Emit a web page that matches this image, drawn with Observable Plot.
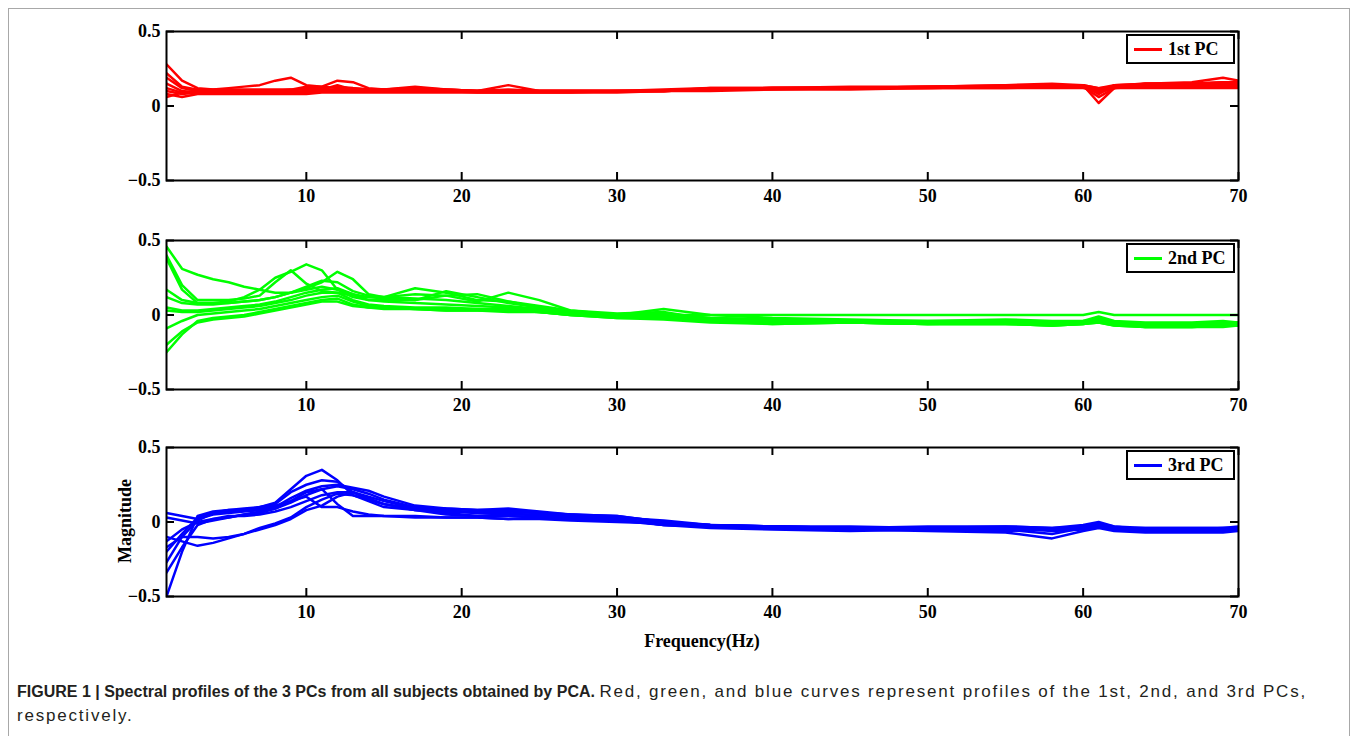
<!DOCTYPE html>
<html><head><meta charset="utf-8">
<script src="https://cdn.jsdelivr.net/npm/d3@7"></script>
<script src="https://cdn.jsdelivr.net/npm/@observablehq/plot@0.6"></script>
<style>
body{margin:0;background:#fff;}
#fig{position:relative;width:1357px;height:736px;overflow:hidden;background:#fff;}
.border{position:absolute;left:8px;top:8px;width:1340px;height:760px;border:1px solid #a8a8a8;}
.panel{position:absolute;left:0;}
.legend{position:absolute;left:1126px;width:105px;height:26px;border:2px solid #000;background:#fff;font:bold 18px "Liberation Serif",serif;color:#000;}
.legend .sw{position:absolute;left:6px;top:12px;width:28px;height:3px;}
.legend .tx{position:absolute;left:40px;top:3px;white-space:nowrap;}
.lab{position:absolute;font:bold 18px "Liberation Serif",serif;color:#000;white-space:nowrap;}
.cap{position:absolute;left:17px;font:16px "Liberation Sans",Arial,sans-serif;color:#231f20;white-space:nowrap;}
.cap .reg{font-size:17px;letter-spacing:1.8px;}
</style></head>
<body><div id="fig"><div class="border"></div></div>
<script>
const freqs = [1,2,3,4,5,6,7,8,9,10, 11,12,13,14,15, 17,19,21,23,25, 27,30,33,36,40, 45,50,55,58,60, 61,62,64,67,69,70];
const xTicks = [10,20,30,40,50,60,70];
const yTicks = [-0.5,0,0.5];
const legendLabels = ["1st PC","2nd PC","3rd PC"];
const colors = ["#ff0000","#00ff00","#0000ff"];

const pc1Curves = [
 [0.28,0.17,0.12,0.11,0.11,0.11,0.11,0.11,0.11,0.11, 0.11,0.11,0.11,0.11,0.11, 0.13,0.11,0.10,0.10,0.10, 0.10,0.10,0.10,0.12,0.12, 0.12,0.13,0.14,0.14,0.14, 0.12,0.14,0.15,0.15,0.15,0.15],
 [0.22,0.13,0.11,0.11,0.12,0.13,0.14,0.17,0.19,0.14, 0.13,0.12,0.12,0.11,0.11, 0.11,0.11,0.10,0.10,0.10, 0.10,0.10,0.11,0.12,0.12, 0.13,0.13,0.14,0.15,0.14, 0.08,0.14,0.15,0.16,0.19,0.17],
 [0.19,0.12,0.10,0.10,0.10,0.10,0.10,0.10,0.11,0.13, 0.13,0.17,0.16,0.12,0.11, 0.12,0.11,0.10,0.14,0.10, 0.10,0.10,0.10,0.11,0.12, 0.12,0.13,0.13,0.14,0.14, 0.02,0.12,0.15,0.15,0.16,0.15],
 [0.15,0.10,0.09,0.09,0.09,0.09,0.09,0.09,0.09,0.10, 0.11,0.14,0.11,0.10,0.10, 0.10,0.10,0.10,0.11,0.10, 0.10,0.10,0.10,0.11,0.12, 0.12,0.12,0.13,0.13,0.13, 0.06,0.12,0.14,0.14,0.14,0.14],
 [0.12,0.09,0.09,0.09,0.09,0.09,0.09,0.09,0.09,0.09, 0.10,0.10,0.10,0.10,0.10, 0.10,0.10,0.10,0.10,0.10, 0.10,0.10,0.10,0.11,0.12, 0.12,0.12,0.13,0.13,0.13, 0.11,0.13,0.14,0.14,0.14,0.13],
 [0.10,0.08,0.09,0.09,0.09,0.09,0.09,0.09,0.09,0.10, 0.10,0.10,0.10,0.10,0.10, 0.10,0.10,0.09,0.09,0.09, 0.09,0.10,0.10,0.11,0.11, 0.12,0.12,0.12,0.13,0.13, 0.09,0.12,0.13,0.13,0.13,0.13],
 [0.08,0.06,0.08,0.08,0.08,0.08,0.08,0.08,0.08,0.08, 0.09,0.09,0.09,0.09,0.09, 0.09,0.09,0.09,0.09,0.09, 0.09,0.09,0.10,0.10,0.11, 0.11,0.12,0.12,0.12,0.12, 0.10,0.12,0.12,0.12,0.12,0.12],
 [0.06,0.09,0.10,0.10,0.10,0.10,0.10,0.10,0.10,0.12, 0.12,0.13,0.12,0.11,0.11, 0.11,0.10,0.10,0.10,0.10, 0.10,0.10,0.10,0.11,0.12, 0.12,0.13,0.13,0.14,0.14, 0.12,0.13,0.15,0.15,0.16,0.16]
];

const pc2Curves = [
 [0.46,0.31,0.27,0.24,0.22,0.19,0.17,0.15,0.15,0.17, 0.19,0.17,0.14,0.12,0.12, 0.18,0.15,0.10,0.09,0.05, 0.02,-0.01,0.00,-0.02,-0.03, -0.04,-0.04,-0.03,-0.04,-0.04, -0.03,-0.05,-0.06,-0.06,-0.05,-0.05],
 [0.40,0.20,0.10,0.10,0.10,0.11,0.13,0.22,0.30,0.21, 0.16,0.15,0.13,0.12,0.11, 0.10,0.16,0.12,0.08,0.05, 0.02,0.00,-0.01,-0.03,-0.04, -0.04,-0.05,-0.04,-0.05,-0.05, -0.02,-0.06,-0.07,-0.07,-0.06,-0.06],
 [0.38,0.17,0.08,0.08,0.09,0.12,0.17,0.25,0.29,0.34, 0.30,0.17,0.12,0.10,0.10, 0.10,0.13,0.14,0.09,0.06, 0.03,0.00,0.01,-0.02,-0.03, -0.04,-0.05,-0.05,-0.06,-0.05, -0.03,-0.05,-0.06,-0.07,-0.06,-0.06],
 [0.17,0.10,0.08,0.08,0.08,0.09,0.10,0.12,0.15,0.18, 0.22,0.29,0.24,0.14,0.12, 0.14,0.13,0.09,0.15,0.10, 0.03,0.01,0.02,-0.03,-0.05, -0.05,-0.06,-0.06,-0.07,-0.06, -0.04,-0.06,-0.08,-0.08,-0.07,-0.07],
 [0.12,0.08,0.07,0.07,0.08,0.09,0.10,0.12,0.15,0.19, 0.23,0.22,0.16,0.13,0.12, 0.11,0.10,0.08,0.06,0.04, 0.02,0.00,0.04,0.00,-0.02, -0.03,-0.04,-0.04,-0.05,-0.04, -0.01,-0.04,-0.05,-0.05,-0.04,-0.05],
 [0.05,0.03,0.03,0.04,0.05,0.06,0.07,0.09,0.12,0.15, 0.17,0.18,0.14,0.10,0.09, 0.08,0.07,0.06,0.05,0.03, 0.02,0.00,0.00,0.00,0.00, 0.00,0.00,0.00,0.00,0.00, 0.02,0.00,0.00,0.00,0.00,0.00],
 [0.03,0.02,0.02,0.03,0.04,0.05,0.06,0.08,0.10,0.13, 0.15,0.15,0.10,0.07,0.06, 0.05,0.05,0.04,0.04,0.02, 0.01,-0.01,-0.02,-0.04,-0.05, -0.05,-0.06,-0.06,-0.07,-0.06, -0.05,-0.07,-0.08,-0.08,-0.08,-0.07],
 [-0.09,-0.04,0.00,0.01,0.02,0.03,0.04,0.06,0.08,0.10, 0.12,0.13,0.09,0.06,0.05, 0.04,0.04,0.04,0.03,0.02, 0.00,-0.02,-0.02,-0.04,-0.06, -0.05,-0.06,-0.05,-0.06,-0.05, -0.04,-0.06,-0.07,-0.07,-0.06,-0.06],
 [-0.20,-0.11,-0.05,-0.03,-0.02,-0.01,0.01,0.03,0.05,0.07, 0.09,0.09,0.06,0.05,0.04, 0.04,0.03,0.03,0.03,0.02, 0.00,-0.02,-0.03,-0.05,-0.06, -0.05,-0.06,-0.06,-0.07,-0.06, -0.05,-0.07,-0.08,-0.08,-0.07,-0.07],
 [-0.25,-0.13,-0.04,-0.02,-0.01,0.00,0.02,0.04,0.06,0.08, 0.10,0.11,0.07,0.05,0.05, 0.04,0.03,0.03,0.02,0.02, 0.00,-0.01,-0.02,-0.03,-0.04, -0.04,-0.05,-0.05,-0.06,-0.05, -0.03,-0.05,-0.06,-0.06,-0.06,-0.06]
];

const pc3Curves = [
 [-0.20,-0.08,0.03,0.06,0.07,0.08,0.10,0.13,0.22,0.31, 0.35,0.28,0.18,0.14,0.10, 0.08,0.07,0.07,0.06,0.04, 0.03,0.02,-0.02,-0.03,-0.04, -0.04,-0.05,-0.04,-0.05,-0.03, -0.02,-0.04,-0.05,-0.05,-0.05,-0.04],
 [-0.27,-0.10,0.01,0.06,0.08,0.09,0.10,0.12,0.20,0.25, 0.28,0.27,0.20,0.15,0.12, 0.09,0.09,0.08,0.08,0.06, 0.05,0.04,0.00,-0.02,-0.03, -0.04,-0.03,-0.03,-0.04,-0.02, 0.00,-0.03,-0.04,-0.04,-0.04,-0.03],
 [0.06,0.04,0.02,0.05,0.06,0.07,0.08,0.10,0.16,0.21, 0.24,0.25,0.23,0.21,0.17, 0.11,0.09,0.08,0.09,0.07, 0.05,0.03,0.01,-0.02,-0.03, -0.03,-0.04,-0.03,-0.04,-0.03, -0.01,-0.03,-0.05,-0.05,-0.04,-0.04],
 [0.03,0.01,-0.01,0.01,0.03,0.05,0.07,0.09,0.14,0.20, 0.22,0.12,0.04,0.04,0.04, 0.04,0.03,0.03,0.02,0.03, 0.02,0.01,-0.02,-0.04,-0.05, -0.06,-0.05,-0.06,-0.05,-0.04, -0.03,-0.05,-0.06,-0.06,-0.06,-0.05],
 [-0.13,-0.05,0.00,0.02,0.03,0.05,0.06,0.09,0.13,0.18, 0.22,0.24,0.22,0.19,0.15, 0.10,0.08,0.06,0.05,0.05, 0.04,0.03,0.00,-0.03,-0.03, -0.05,-0.05,-0.04,-0.06,-0.05, -0.03,-0.05,-0.06,-0.06,-0.05,-0.05],
 [-0.10,-0.13,-0.16,-0.14,-0.11,-0.08,-0.04,-0.01,0.03,0.10, 0.15,0.19,0.18,0.15,0.12, 0.08,0.05,0.04,0.04,0.03, 0.02,0.01,-0.01,-0.03,-0.04, -0.05,-0.06,-0.07,-0.11,-0.06, -0.04,-0.06,-0.07,-0.07,-0.07,-0.06],
 [-0.17,-0.10,-0.10,-0.11,-0.10,-0.08,-0.05,-0.02,0.02,0.08, 0.11,0.17,0.20,0.17,0.14, 0.09,0.06,0.04,0.05,0.05, 0.03,0.02,-0.02,-0.03,-0.03, -0.04,-0.04,-0.05,-0.08,-0.04, -0.03,-0.04,-0.06,-0.06,-0.06,-0.05],
 [-0.34,-0.17,-0.02,0.02,0.04,0.04,0.05,0.07,0.10,0.14, 0.18,0.20,0.20,0.16,0.12, 0.08,0.07,0.06,0.07,0.06, 0.05,0.04,0.00,-0.02,-0.03, -0.04,-0.04,-0.04,-0.05,-0.03, -0.02,-0.04,-0.05,-0.05,-0.05,-0.04],
 [-0.50,-0.20,0.04,0.07,0.08,0.08,0.09,0.11,0.14,0.17, 0.10,0.10,0.07,0.05,0.04, 0.03,0.03,0.03,0.02,0.02, 0.01,0.00,-0.01,-0.02,-0.03, -0.04,-0.04,-0.04,-0.05,-0.03, -0.02,-0.04,-0.04,-0.04,-0.04,-0.04]
];

const panelTops = [31, 240, 447];
const fig = document.getElementById("fig");
const W = 1357, ML = 166, MR = 119, MT = 10, MB = 34, H = 149;
const innerW = W - ML - MR;
const yFmt = d => d === 0 ? "0" : (d < 0 ? "\u2212" : "") + Math.abs(d);

[pc1Curves, pc2Curves, pc3Curves].forEach((curves, k) => {
  const rows = [];
  curves.forEach((vals, i) => vals.forEach((v, j) => {
    if (j < freqs.length && v != null) rows.push({f: freqs[j], v, s: i});
  }));
  const tickStyle = {stroke: "#000", strokeWidth: 2};
  const svg = Plot.plot({
    width: W, height: MT + H + MB,
    marginLeft: ML, marginRight: MR, marginTop: MT, marginBottom: MB,
    style: {fontFamily: '"Liberation Serif", "Times New Roman", serif', fontSize: "18px", fontWeight: "bold", color: "#000", background: "transparent", overflow: "visible"},
    x: {domain: [1, 70]},
    y: {domain: [-0.5, 0.5]},
    marks: [
      Plot.line(rows, {x: "f", y: "v", z: "s", stroke: colors[k], strokeWidth: 2.5, clip: true}),
      Plot.ruleX(xTicks, {x: d => d, insetTop: H - 8, ...tickStyle}),
      Plot.ruleX(xTicks, {x: d => d, insetBottom: H - 8, ...tickStyle}),
      Plot.ruleY(yTicks, {y: d => d, insetRight: innerW - 8, ...tickStyle}),
      Plot.ruleY(yTicks, {y: d => d, insetLeft: innerW - 8, ...tickStyle}),
      Plot.frame({stroke: "#000", strokeWidth: 2}),
      Plot.axisX(xTicks, {tickSize: 0, tickPadding: 9, label: null}),
      Plot.axisY(yTicks, {tickSize: 0, tickPadding: 6, label: null, tickFormat: yFmt})
    ]
  });
  svg.classList.add("panel");
  svg.style.top = (panelTops[k] - MT) + "px";
  fig.appendChild(svg);

  const lg = document.createElement("div");
  lg.className = "legend";
  lg.style.top = (panelTops[k] + 3) + "px";
  lg.innerHTML = `<div class="sw" style="background:${colors[k]}"></div><div class="tx">${legendLabels[k]}</div>`;
  fig.appendChild(lg);
});

const yl = document.createElement("div");
yl.className = "lab";
yl.textContent = "Magnitude";
yl.style.left = "125px"; yl.style.top = "521px";
yl.style.transform = "translate(-50%,-50%) rotate(-90deg)";
fig.appendChild(yl);

const xl = document.createElement("div");
xl.className = "lab";
xl.textContent = "Frequency(Hz)";
xl.style.left = "702px"; xl.style.top = "641px";
xl.style.transform = "translate(-50%,-50%)";
fig.appendChild(xl);

const c1 = document.createElement("div");
c1.className = "cap"; c1.style.top = "682px";
c1.innerHTML = "<b>FIGURE 1 | Spectral profiles of the 3 PCs from all subjects obtained by PCA.</b> <span class=\"reg\">Red, green, and blue curves represent profiles of the 1st, 2nd, and 3rd PCs,</span>";
fig.appendChild(c1);
const c2 = document.createElement("div");
c2.className = "cap"; c2.style.top = "706px";
c2.innerHTML = "<span class=\"reg\">respectively.</span>";
fig.appendChild(c2);
</script>
</body></html>
